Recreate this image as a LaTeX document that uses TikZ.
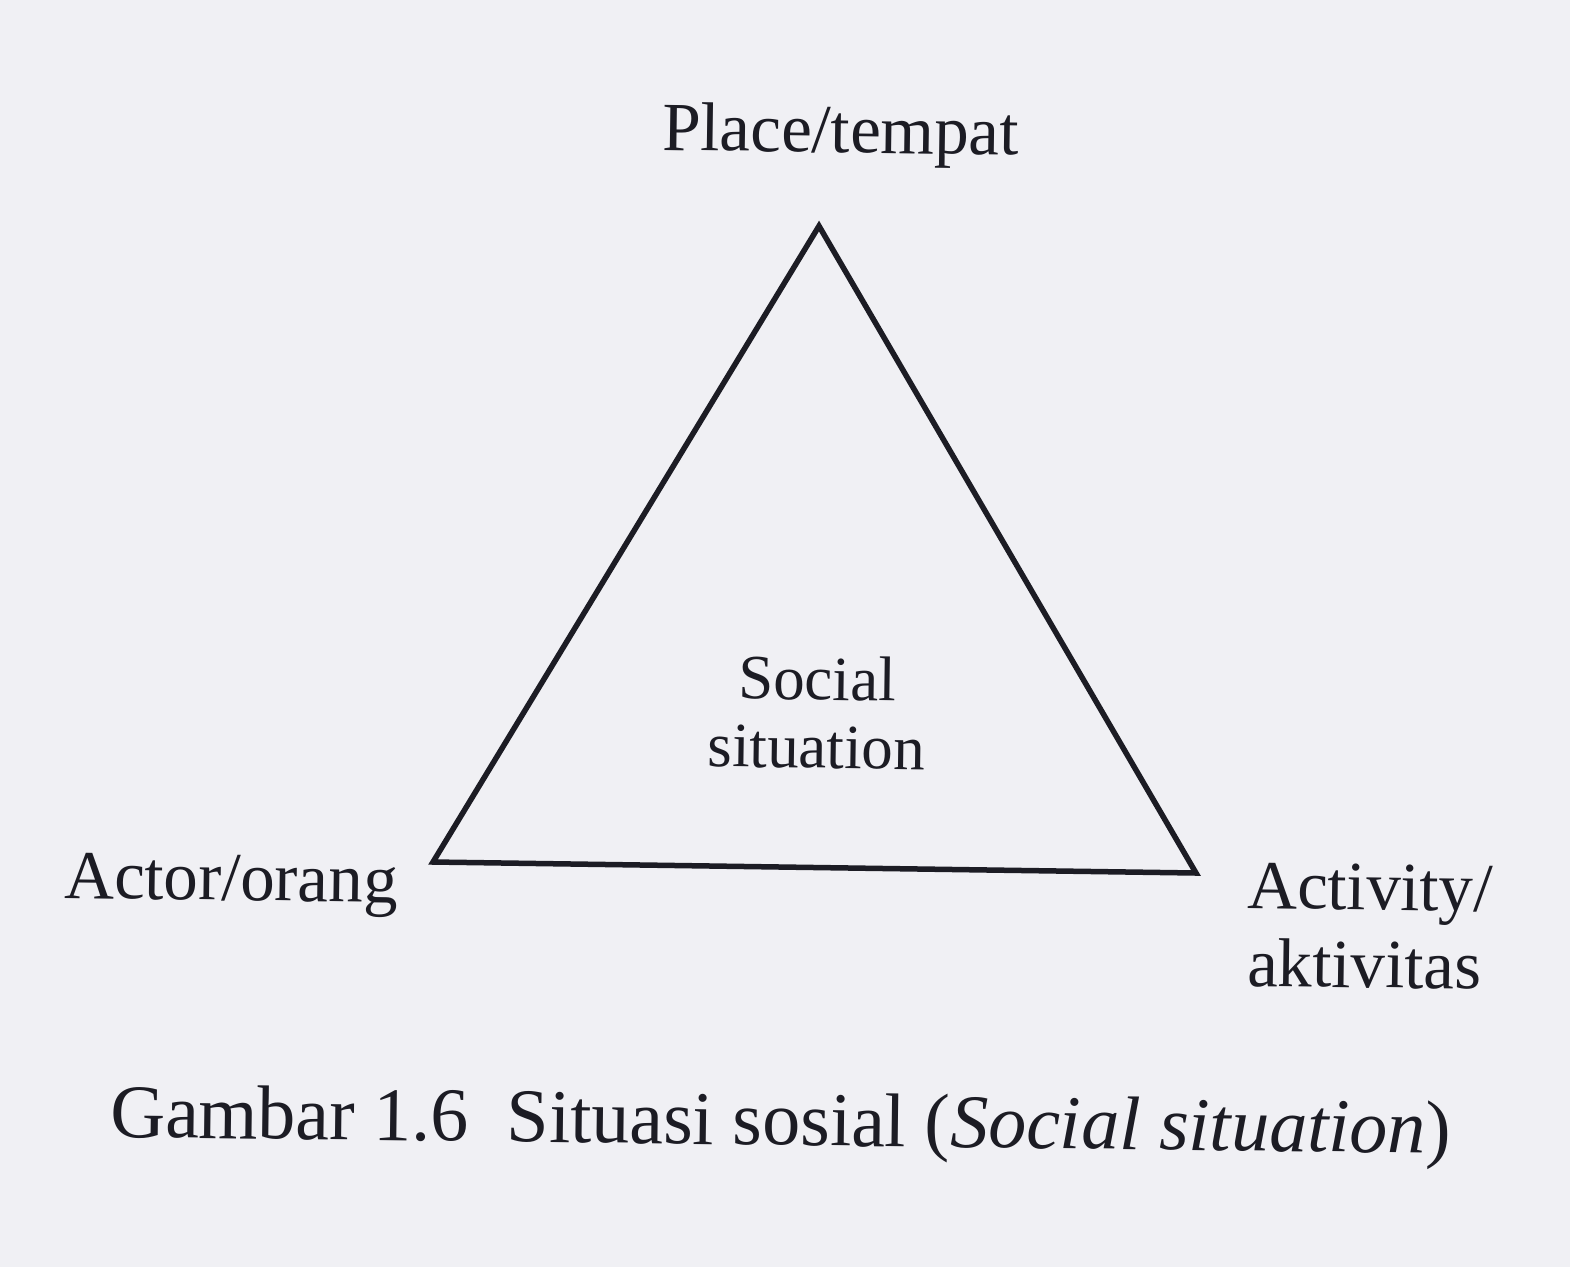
\documentclass[tikz,border=0pt]{standalone}
\usepackage{fontspec}
\setmainfont{Liberation Serif}
\definecolor{paper}{RGB}{240,240,244}
\definecolor{ink}{RGB}{28,28,36}
\begin{document}
\begin{tikzpicture}[x=1pt,y=-1pt]
\tikzset{
  lbl/.style={inner sep=0pt, text=ink, rotate=-0.8, font=\fontsize{69}{80}\selectfont},
  innerlbl/.style={inner sep=0pt, text=ink, rotate=-0.8, font=\fontsize{63}{70}\selectfont},
  captext/.style={inner sep=0pt, text=ink, rotate=-0.7, font=\fontsize{76}{86}\selectfont},
  triline/.style={draw=ink, line width=5.5pt, line join=miter}
}
\fill[paper] (0,0) rectangle (1570,1267);
\useasboundingbox (0,0) rectangle (1570,1267);
% triangle vertices
\coordinate (top) at (819,226);
\coordinate (lft) at (433,862);
\coordinate (rgt) at (1196,873);
\draw[triline] (top) -- (lft) -- (rgt) -- cycle;
% labels
\node[lbl, anchor=base west] (place) at (662,150) {Place/tempat};
\node[innerlbl, anchor=base] (social) at (817,700) {Social};
\node[innerlbl, anchor=base] (situation) at (816,768) {situation};
\node[lbl, anchor=base west] (actor) at (64,898) {Actor/orang};
\node[lbl, anchor=base west] (activity) at (1247,908) {Activity/};
\node[lbl, anchor=base west] (aktivitas) at (1247,986) {aktivitas};
\node[captext, anchor=base west] (caption) at (110,1137) {Gambar 1.6\ \ Situasi sosial (\textit{Social situation})};
\end{tikzpicture}
\end{document}
